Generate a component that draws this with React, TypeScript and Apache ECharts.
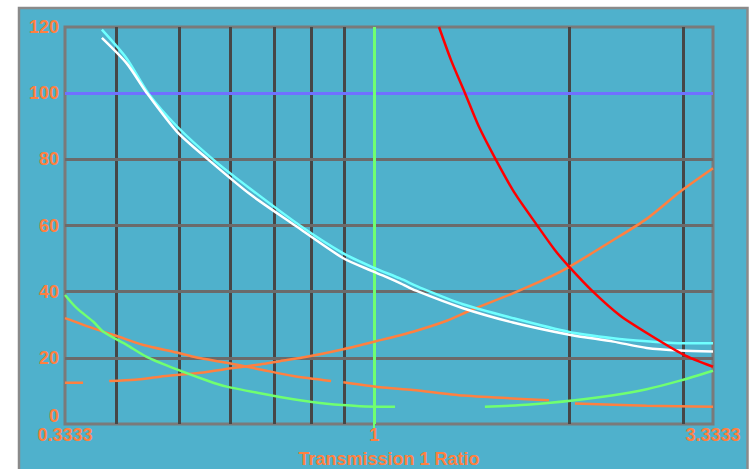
import React, { useEffect, useRef } from 'react';
import * as echarts from 'echarts';

// Axis ticks and labels
const xTickValues = [0.3333, 1, 3.3333];
const xTickLabels = ['0.3333', '1', '3.3333'];
const yTicks = [0, 20, 40, 60, 80, 100, 120];
const minorXLines = [0.4, 0.5, 0.6, 0.7, 0.8, 0.9, 2, 3];
const horizontalGrid = [20, 40, 60, 80];
const referenceY = 100;
const referenceX = 1;
const xAxisTitle = 'Transmission 1 Ratio';

// Series values [ratio, value]
const cyanCurve = [
  [0.38, 119.2], [0.415, 110.5], [0.448, 100], [0.496, 90], [0.564, 80], [0.643, 71.2],
  [0.768, 60], [0.896, 51.6], [1.0, 47.2], [1.096, 44], [1.185, 41], [1.371, 36.2],
  [1.637, 32], [2.0, 27.8], [2.339, 25.9], [2.633, 25], [2.965, 24.4], [3.3333, 24.4],
];
const whiteCurve = [
  [0.38, 116.7], [0.415, 109], [0.446, 100], [0.496, 88.4], [0.554, 80], [0.643, 69.5],
  [0.755, 60], [0.896, 50.1], [1.0, 46], [1.096, 42.6], [1.16, 40.3], [1.371, 35],
  [1.637, 30.7], [2.0, 27], [2.339, 24.9], [2.633, 23], [2.965, 22.2], [3.3333, 21.9],
];
const redCurve = [
  [1.259, 120], [1.314, 110], [1.381, 100], [1.45, 90], [1.54, 80], [1.645, 70],
  [1.785, 60], [1.9, 52.6], [2.0, 47.5], [2.176, 40], [2.395, 32.8], [2.665, 26.9],
  [3.0, 21], [3.3333, 17.3],
];
const orangeRising = [
  [0.3333, 12.5], [0.3554, 12.5], [0.37, '-'], [0.39, 13], [0.4274, 13.4], [0.4673, 14.3],
  [0.5385, 15.5], [0.6055, 16.9], [0.6667, 18], [0.7157, 19], [0.7867, 20.3],
  [0.8963, 22.6], [1.006, 25], [1.148, 27.9], [1.294, 31.2], [1.406, 34.3],
  [1.637, 39.5], [1.846, 44], [2.0, 47.5], [2.339, 55.6], [2.633, 62], [2.965, 70.2],
  [3.3333, 77.3],
];
const orangeFalling = [
  [0.3333, 32], [0.3687, 28.9], [0.4005, 26.6], [0.4403, 23.9], [0.4958, 21.6],
  [0.5323, 20.1], [0.592, 18.5], [0.6667, 16.5], [0.7503, 14.5], [0.858, 13],
  [0.875, '-'], [0.896, 12.6], [1.021, 11.1], [1.148, 10.3], [1.373, 8.6], [1.861, 7.2],
  [1.95, '-'], [2.041, 6.2], [2.633, 5.5], [3.3333, 5.2],
];
const greenCurve = [
  [0.3333, 39], [0.3475, 35], [0.3687, 30.9], [0.382, 27.9], [0.415, 23.9], [0.4455, 20.3],
  [0.4958, 16.5], [0.5547, 13], [0.592, 11.3], [0.6667, 9.3], [0.7503, 7.5], [0.845, 6.1],
  [0.9507, 5.4], [1.077, 5.2], [1.25, '-'], [1.482, 5.2], [1.74, 5.9], [2.041, 7.2],
  [2.339, 8.7], [2.633, 10.5], [2.965, 13.1], [3.3333, 16.1],
];

const ORANGE = '#ff8040';
const FONT = 'Liberation Sans, Arial, sans-serif';

function markLineSeries(name: string, data: any[], color: string, width: number, z: number) {
  return {
    type: 'line',
    name,
    data: [],
    xAxisIndex: 0,
    yAxisIndex: 0,
    z,
    silent: true,
    markLine: {
      silent: true,
      symbol: ['none', 'none'],
      label: { show: false },
      emphasis: { disabled: true },
      lineStyle: { color, width, type: 'solid' },
      data,
    },
  };
}

function curveSeries(name: string, data: any[], color: string, width: number) {
  return {
    type: 'line',
    name,
    data,
    xAxisIndex: 0,
    yAxisIndex: 0,
    z: 10,
    smooth: 0.25,
    showSymbol: false,
    symbol: 'none',
    connectNulls: false,
    silent: true,
    lineStyle: { color, width },
  };
}

const labelFont = {
  color: ORANGE,
  fontWeight: 'bold',
  fontSize: 18,
  fontFamily: FONT,
};

export default function App() {
  const ref = useRef<HTMLDivElement>(null);

  useEffect(() => {
    if (!ref.current) return;
    const chart = echarts.init(ref.current, undefined, { renderer: 'svg' });
    const logTicks = xTickValues.map((v) => Math.log10(v));
    const yMin = yTicks[0];
    const yMax = yTicks[yTicks.length - 1];
    chart.setOption({
      animation: false,
      backgroundColor: '#ffffff',
      graphic: [
        {
          type: 'rect',
          z: -100,
          silent: true,
          shape: { x: 19, y: 8, width: 728.5, height: 480 },
          style: { fill: '#4fb1cc', stroke: '#8a8a8a', lineWidth: 2.5 },
        },
      ],
      grid: {
        left: 65,
        right: 36,
        top: 27,
        bottom: 45,
        containLabel: false,
        outerBoundsMode: 'none',
        show: true,
        borderColor: '#7a7a7a',
        borderWidth: 3,
        backgroundColor: 'transparent',
      },
      xAxis: [
        {
          type: 'log',
          logBase: 10,
          min: xTickValues[0],
          max: xTickValues[xTickValues.length - 1],
          axisLine: { show: false },
          axisTick: { show: false },
          axisLabel: { show: false },
          splitLine: { show: false },
        },
        {
          type: 'value',
          position: 'bottom',
          min: logTicks[0],
          max: logTicks[logTicks.length - 1],
          axisLine: { show: false },
          axisTick: {
            show: true,
            customValues: [Math.log10(referenceX)],
            length: 4,
            lineStyle: { color: '#70ff70', width: 2 },
          },
          splitLine: { show: false },
          axisLabel: {
            ...labelFont,
            customValues: logTicks,
            margin: 2,
            showMinLabel: true,
            showMaxLabel: true,
            formatter: (v: number) => {
              let best = 0;
              for (let i = 1; i < logTicks.length; i++) {
                if (Math.abs(logTicks[i] - v) < Math.abs(logTicks[best] - v)) best = i;
              }
              return xTickLabels[best];
            },
          },
          name: xAxisTitle,
          nameLocation: 'middle',
          nameGap: 26,
          nameTextStyle: { ...labelFont },
        },
      ],
      yAxis: [
        {
          type: 'value',
          position: 'left',
          min: yMin,
          max: yMax,
          interval: yTicks[1] - yTicks[0],
          axisLine: { show: false },
          axisTick: { show: false },
          splitLine: { show: false },
          axisLabel: {
            ...labelFont,
            customValues: yTicks.filter((v) => v !== yMin),
            margin: 6,
          },
        },
        {
          type: 'value',
          position: 'left',
          min: yMin,
          max: yMax,
          interval: yTicks[1] - yTicks[0],
          axisLine: { show: false },
          axisTick: { show: false },
          splitLine: { show: false },
          axisLabel: {
            ...labelFont,
            customValues: [yMin],
            margin: 6,
            verticalAlign: 'bottom',
            lineHeight: 16,
          },
        },
      ],
      series: [
        markLineSeries('vgrid', minorXLines.map((v) => ({ xAxis: v })), '#464646', 3, 1),
        markLineSeries('hgrid', horizontalGrid.map((v) => ({ yAxis: v })), '#6b6b6b', 3, 2),
        markLineSeries('ref100', [{ yAxis: referenceY }], '#7070ff', 3, 3),
        markLineSeries('ref1', [{ xAxis: referenceX }], '#70ff70', 3, 4),
        curveSeries('orangeFalling', orangeFalling, ORANGE, 2.5),
        curveSeries('orangeRising', orangeRising, ORANGE, 2.5),
        curveSeries('green', greenCurve, '#70ff70', 2.5),
        curveSeries('cyan', cyanCurve, '#70ffff', 2.5),
        curveSeries('white', whiteCurve, '#ffffff', 2.5),
        curveSeries('red', redCurve, '#ff0000', 2.5),
      ],
    });
    return () => chart.dispose();
  }, []);

  return (
    <div
      ref={ref}
      style={{ position: 'fixed', left: 0, top: 0, width: 749, height: 469 }}
    />
  );
}
